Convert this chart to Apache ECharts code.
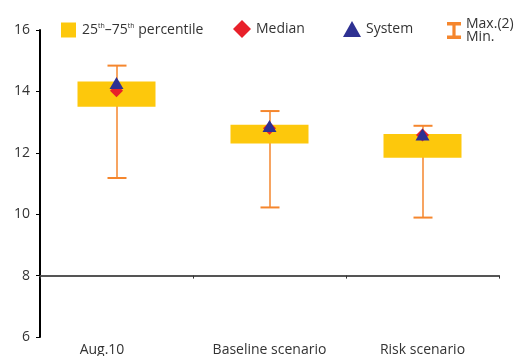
<!DOCTYPE html>
<html><head><meta charset="utf-8">
<script src="https://cdn.jsdelivr.net/npm/echarts@6/dist/echarts.min.js"></script>
<style>html,body{margin:0;padding:0;background:#fff}#c{width:518px;height:356px}</style>
</head><body><div id="c"></div>
<script>
const categories = ['Aug.10', 'Baseline scenario', 'Risk scenario'];
const minVals = [11.18, 10.22, 9.89];
const q1Vals = [13.50, 12.30, 11.84];
const q3Vals = [14.32, 12.91, 12.61];
const maxVals = [14.84, 13.36, 12.88];
const medianVals = [14.02, 12.80, 12.58];
const systemVals = [14.27, 12.87, 12.60];
const yTicks = [6, 8, 10, 12, 14, 16];

const YELLOW = '#FDC80C', ORANGE = '#F5862D', RED = '#E8202A', NAVY = '#2E3192';
const FONT = 'Open Sans';

const boxData = categories.map((c, i) => [i, q1Vals[i], q3Vals[i]]);
const whiskData = categories.map((c, i) => [i, minVals[i], maxVals[i]]);

const chart = echarts.init(document.getElementById('c'));
chart.setOption({
  animation: false,
  grid: {left: 40, right: 19, top: 30, bottom: 19, containLabel: false, outerBoundsMode: 'none'},
  legend: [
    {data: ['pct'], left: 61, top: 22, padding: 0, icon: 'rect', itemWidth: 15, itemHeight: 15, itemGap: 0,
     formatter: () => '25{s|th}–75{s|th} percentile',
     textStyle: {fontFamily: FONT, fontSize: 14, color: '#333', padding: [0, 0, 0, 1],
       rich: {s: {fontSize: 7, fontFamily: FONT, color: '#333', verticalAlign: 'top', padding: [0,0,9,0]}}}},
    {data: ['Median'], left: 233, top: 20, padding: 0, icon: 'diamond', itemWidth: 18, itemHeight: 18,
     textStyle: {fontFamily: FONT, fontSize: 14, color: '#333'}},
    {data: ['System'], left: 343, top: 21, padding: 0, icon: 'triangle', itemWidth: 18, itemHeight: 16,
     textStyle: {fontFamily: FONT, fontSize: 14, color: '#333'}},
    {data: ['whisk'], left: 447, top: 17, padding: 0, icon: 'path://M0,0H14V3.6H8.6V13.4H14V17H0V13.4H5.4V3.6H0Z',
     itemWidth: 14, itemHeight: 18,
     formatter: () => 'Max.(2)\nMin.',
     textStyle: {fontFamily: FONT, fontSize: 14, color: '#333', lineHeight: 13}}
  ],
  xAxis: [
    {type: 'category', data: categories, position: 'bottom',
     axisLine: {show: false}, axisTick: {show: false},
     axisLabel: {fontFamily: FONT, fontSize: 14, color: '#333', margin: 6,
       formatter: (v, i) => i === 0 ? '{a|' + v + '}' : v,
       rich: {a: {fontFamily: FONT, fontSize: 14, color: '#333', padding: [0, 29, 0, 0]}}}},
    {type: 'category', data: categories, position: 'bottom', offset: -61.4,
     axisLine: {show: true, lineStyle: {color: '#555', width: 2}},
     axisTick: {show: true, length: 3, lineStyle: {color: '#333', width: 1}},
     axisLabel: {show: false}}
  ],
  yAxis: {type: 'value', min: 6, max: 16, interval: 2,
    axisLine: {show: true, lineStyle: {color: '#000', width: 2}},
    axisTick: {show: true, inside: false, length: 4, lineStyle: {color: '#000'}},
    splitLine: {show: false},
    axisLabel: {fontFamily: FONT, fontSize: 14, color: '#333', margin: 10}},
  series: [
    {name: 'whisk', type: 'custom', xAxisIndex: 0, data: whiskData, itemStyle: {color: ORANGE}, z: 2,
     renderItem: (params, api) => {
       const x = api.value(0);
       const pMin = api.coord([x, api.value(1)]);
       const pMax = api.coord([x, api.value(2)]);
       const cw = 19;
       const cx = Math.round(pMin[0]);
       return {type: 'group', children: [
         {type: 'line', shape: {x1: cx, y1: pMin[1], x2: cx, y2: pMax[1]}, style: {stroke: ORANGE, lineWidth: 1.5}},
         {type: 'line', shape: {x1: cx - cw/2, y1: pMin[1], x2: cx + cw/2, y2: pMin[1]}, style: {stroke: ORANGE, lineWidth: 2}},
         {type: 'line', shape: {x1: cx - cw/2, y1: pMax[1], x2: cx + cw/2, y2: pMax[1]}, style: {stroke: ORANGE, lineWidth: 2}}
       ]};
     }},
    {name: 'pct', type: 'custom', xAxisIndex: 0, data: boxData, itemStyle: {color: YELLOW}, z: 3,
     renderItem: (params, api) => {
       const x = api.value(0);
       const p1 = api.coord([x, api.value(1)]);
       const p3 = api.coord([x, api.value(2)]);
       const bw = 78;
       return {type: 'rect', shape: {x: p1[0] - bw/2, y: p3[1], width: bw, height: p1[1] - p3[1]},
               style: {fill: YELLOW}};
     }},
    {name: 'Median', type: 'scatter', data: medianVals, symbol: 'diamond', symbolSize: [13, 13],
     itemStyle: {color: RED, opacity: 1}, z: 4},
    {name: 'System', type: 'scatter', data: systemVals, symbol: 'triangle', symbolSize: [14, 12],
     itemStyle: {color: NAVY, opacity: 1}, z: 5}
  ]
});
</script></body></html>
